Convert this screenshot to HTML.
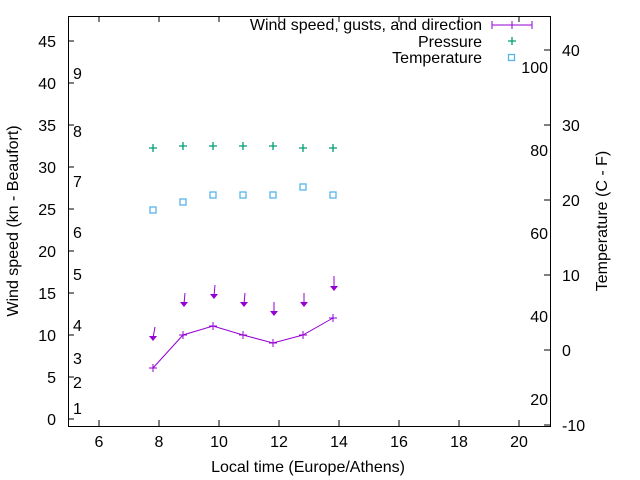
<!DOCTYPE html>
<html><head><style>body{margin:0;background:#fff}svg{display:block;font-family:"Liberation Sans",sans-serif}</style></head>
<body>
<svg width="640" height="480" viewBox="0 0 640 480" xmlns="http://www.w3.org/2000/svg">
<rect width="640" height="480" fill="#fff"/>
<g stroke="#000" stroke-width="1" fill="none">
<rect x="68.5" y="16.5" width="482" height="410"/>
<path d="M68 419h6M68 377h6M68 335h6M68 293h6M68 251h6M68 209h6M68 167h6M68 125h6M68 83h6M68 41h6"/>
<path d="M99 426v-6M159 426v-6M219 426v-6M279 426v-6M339 426v-6M399 426v-6M459 426v-6M519 426v-6"/>
<path d="M99 16v6M159 16v6M219 16v6M279 16v6M339 16v6M399 16v6M459 16v6M519 16v6"/>
<path d="M550 425h-6M550 350h-6M550 275h-6M550 200h-6M550 125h-6M550 50h-6"/>
</g>
<g font-size="16" fill="#000" text-anchor="end">
<text x="56" y="425">0</text><text x="56" y="383">5</text><text x="56" y="341">10</text><text x="56" y="299">15</text><text x="56" y="257">20</text><text x="56" y="215">25</text><text x="56" y="173">30</text><text x="56" y="131">35</text><text x="56" y="89">40</text><text x="56" y="47">45</text>
</g>
<g font-size="16" fill="#000" text-anchor="middle">
<text x="99" y="447">6</text><text x="159" y="447">8</text><text x="219" y="447">10</text><text x="279" y="447">12</text><text x="339" y="447">14</text><text x="399" y="447">16</text><text x="459" y="447">18</text><text x="519" y="447">20</text>
<text x="308" y="472">Local time (Europe/Athens)</text>
</g>
<g font-size="16" fill="#000">
<text x="562" y="431">-10</text><text x="562" y="356">0</text><text x="562" y="281">10</text><text x="562" y="206">20</text><text x="562" y="131">30</text><text x="562" y="56">40</text>
<text x="73" y="79">9</text><text x="73" y="137">8</text><text x="73" y="187">7</text><text x="73" y="238">6</text><text x="73" y="280">5</text><text x="73" y="331">4</text><text x="73" y="364">3</text><text x="73" y="388">2</text><text x="73" y="414">1</text>
</g>
<g font-size="16" fill="#000" text-anchor="end">
<text x="548" y="73">100</text><text x="548" y="156">80</text><text x="548" y="239">60</text><text x="548" y="322">40</text><text x="548" y="405">20</text>
</g>
<text font-size="16" transform="translate(18,221) rotate(-90)" text-anchor="middle">Wind speed (kn - Beaufort)</text>
<text font-size="16" transform="translate(607,221) rotate(-90)" text-anchor="middle">Temperature (C - F)</text>
<g font-size="16" text-anchor="end"><text x="482" y="30">Wind speed, gusts, and direction</text><text x="482" y="47">Pressure</text><text x="482" y="63">Temperature</text></g>
<g stroke="#9400d3" fill="none" stroke-width="1">
<path d="M492 25h40M492 21v8M532 21v8M512 21v8"/>
<polyline points="153,368 183,335 213,326 243,335 273,343 303,335 333,318"/>
<path d="M149 368h8M153 364v8M179 335h8M183 331v8M209 326h8M213 322v8M239 335h8M243 331v8M269 343h8M273 339v8M299 335h8M303 331v8M329 318h8M333 314v8"/>
<path d="M155 327L153 338M185 293L184 304M215 285L214 296M245 293L244 304M274 302L274 313M304 293L304 304M334 276L334 288"/>
</g>
<g fill="#9400d3">
<path d="M149 336h8l-4 5z M180 302h8l-4 5z M210 294h8l-4 5z M240 302h8l-4 5z M270 311h8l-4 5z M300 302h8l-4 5z M330 286h8l-4 5z"/>
</g>
<g stroke="#009e73" stroke-width="1.3">
<path d="M508 41h8M512 37v8"/>
<path d="M149 148h8M153 144v8M179 146h8M183 142v8M209 146h8M213 142v8M239 146h8M243 142v8M269 146h8M273 142v8M299 148h8M303 144v8M329 148h8M333 144v8"/>
</g>
<g stroke="#56b4e9" stroke-width="1.3" fill="none">
<rect x="508.5" y="54.5" width="6" height="6"/>
<rect x="150" y="207" width="6" height="6"/><rect x="180" y="199" width="6" height="6"/><rect x="210" y="192" width="6" height="6"/><rect x="240" y="192" width="6" height="6"/><rect x="270" y="192" width="6" height="6"/><rect x="300" y="184" width="6" height="6"/><rect x="330" y="192" width="6" height="6"/>
</g>
</svg>
</body></html>
